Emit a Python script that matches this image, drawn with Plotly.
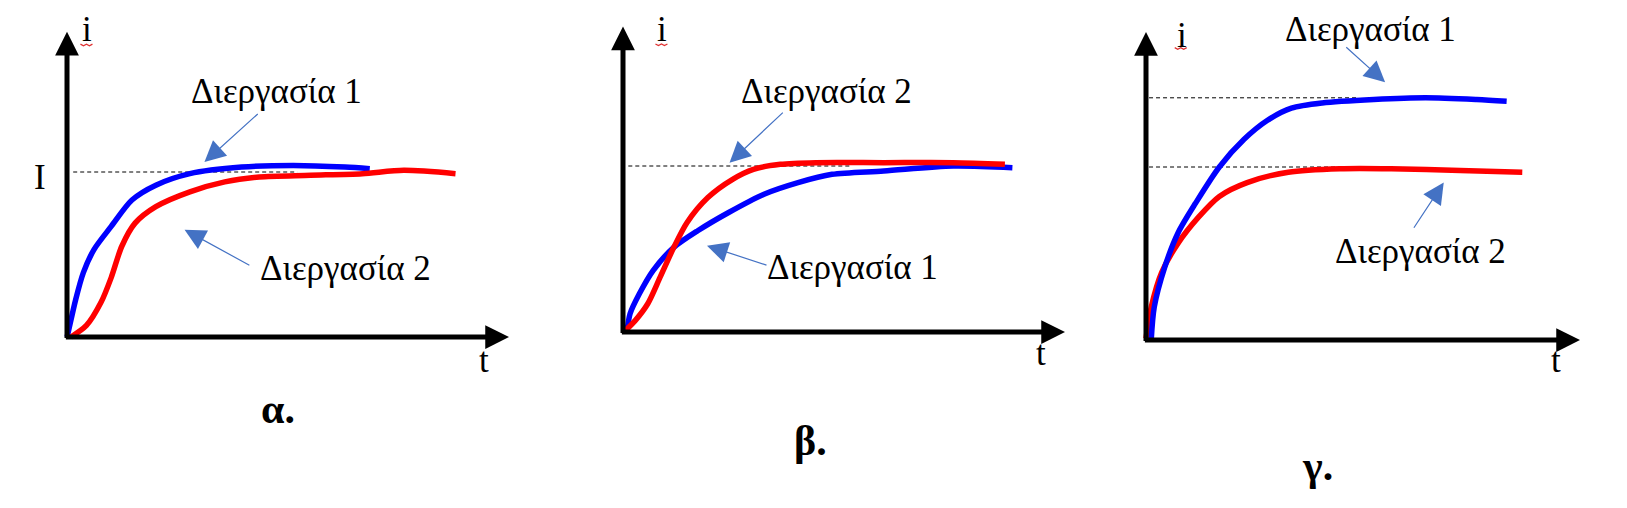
import plotly.graph_objects as go

# ---------------- data (t in arbitrary time units 0..10, i relative to level I = 1) -------------
# Panel α
t_a_blue = [0.0, 0.02, 0.19, 0.37, 0.61, 1.00, 1.47, 2.01, 2.78, 3.95, 5.12, 6.29, 6.85]
i_a_blue = [0.0, 0.02, 0.22, 0.39, 0.53, 0.67, 0.83, 0.92, 0.99, 1.03, 1.04, 1.03, 1.02]
t_a_red = [0.09, 0.44, 0.77, 1.00, 1.24, 1.54, 2.01, 2.78, 3.57, 4.35, 5.51, 6.68, 7.62, 8.79]
i_a_red = [0.0, 0.07, 0.21, 0.36, 0.55, 0.69, 0.79, 0.88, 0.94, 0.97, 0.98, 0.99, 1.01, 0.99]

# Panel β
t_b_red = [0.02, 0.28, 0.56, 0.84, 1.15, 1.45, 1.92, 2.48, 2.95, 3.56, 4.36, 5.90, 7.47, 8.64]
i_b_red = [0.0, 0.07, 0.17, 0.33, 0.51, 0.66, 0.81, 0.92, 0.98, 1.01, 1.02, 1.02, 1.02, 1.01]
t_b_blue = [0.09, 0.16, 0.37, 0.68, 1.15, 1.69, 2.39, 3.19, 3.96, 4.73, 5.90, 7.47, 8.81]
i_b_blue = [0.0, 0.11, 0.23, 0.37, 0.51, 0.61, 0.72, 0.83, 0.90, 0.95, 0.97, 1.00, 0.99]

# Panel γ
t_c_blue = [0.12, 0.19, 0.43, 0.74, 1.14, 1.69, 2.26, 2.80, 3.35, 4.06, 5.25, 6.44, 7.62, 8.31]
i_c_blue = [0.0, 0.19, 0.42, 0.62, 0.79, 1.00, 1.16, 1.27, 1.34, 1.37, 1.39, 1.40, 1.39, 1.38]
t_c_red = [0.0, 0.12, 0.36, 0.74, 1.21, 1.69, 2.33, 3.28, 4.47, 5.65, 7.24, 8.67]
i_c_red = [0.01, 0.19, 0.39, 0.56, 0.71, 0.83, 0.91, 0.97, 0.99, 0.99, 0.98, 0.97]

# steady-state levels (dashed guides): (level, t_start, t_end)
levels_a = [(1.0, 0.14, 5.21)]
levels_b = [(1.0, 0.12, 5.18)]
levels_c = [(1.40, 0.07, 4.87), (1.0, 0.07, 5.11)]

panel_titles = ["α.", "β.", "γ."]
proc1 = "Διεργασία 1"
proc2 = "Διεργασία 2"

# ---------------- layout geometry (page pixels) ----------------
PAGE_W, PAGE_H = 1627, 508
OFF = 8                      # default body margin of the html page
W, H = PAGE_W - OFF, PAGE_H - OFF
PANELS = [
    dict(left=0, right=540, ox=67, oy=337, sx=44.2, sy=165, ytop=1.85),
    dict(left=540, right=1090, ox=623, oy=332, sx=44.2, sy=166, ytop=1.84),
    dict(left=1090, right=1627, ox=1146, oy=340, sx=43.4, sy=173, ytop=1.78),
]
X_END = 10.0

BLUE = "#0000FF"
RED = "#FF0000"
CALLOUT = "#4472C4"
FONT = "Liberation Serif, DejaVu Serif, serif"

fig = go.Figure()
layout = dict(width=W, height=H, margin=dict(l=0, r=0, t=0, b=0),
              paper_bgcolor="white", plot_bgcolor="white", showlegend=False)

for k, p in enumerate(PANELS):
    xa = "xaxis" if k == 0 else f"xaxis{k+1}"
    ya = "yaxis" if k == 0 else f"yaxis{k+1}"
    xr = "x" if k == 0 else f"x{k+1}"
    yr = "y" if k == 0 else f"y{k+1}"
    ox, oy = p["ox"] - OFF, p["oy"] - OFF
    left = max(0, p["left"] - OFF)
    right = min(W, p["right"] - OFF)
    layout[xa] = dict(domain=[left / W, right / W],
                      range=[(left - ox) / p["sx"], (right - ox) / p["sx"]],
                      visible=False, anchor=yr, fixedrange=True)
    layout[ya] = dict(domain=[0, 1],
                      range=[(oy - H) / p["sy"], oy / p["sy"]],
                      visible=False, anchor=xr, fixedrange=True)
fig.update_layout(**layout)

refs = [("x", "y"), ("x2", "y2"), ("x3", "y3")]

# dashed guide lines
for (xr, yr), lev in zip(refs, [levels_a, levels_b, levels_c]):
    for (yv, x0, x1) in lev:
        fig.add_shape(type="line", xref=xr, yref=yr, x0=x0, x1=x1, y0=yv, y1=yv,
                      line=dict(color="black", width=1, dash="4px,3px"), layer="below")

# curves
curves = [
    (0, t_a_blue, i_a_blue, BLUE), (0, t_a_red, i_a_red, RED),
    (1, t_b_blue, i_b_blue, BLUE), (1, t_b_red, i_b_red, RED),
    (2, t_c_red, i_c_red, RED), (2, t_c_blue, i_c_blue, BLUE),
]
for k, tx, iy, col in curves:
    xr, yr = refs[k]
    fig.add_trace(go.Scatter(x=tx, y=iy, mode="lines", xaxis=xr, yaxis=yr,
                             line=dict(color=col, width=5.5, shape="spline", smoothing=0.8),
                             hoverinfo="skip"))

# red spell-check squiggle under the "i" labels (decoration), offsets in pixels
SQ_DX = [-6.0, -3.0, 0.0, 3.0, 6.0]
SQ_DY = [0.0, -1.6, 0.0, -1.6, 0.0]
squiggle_pos = [(0.44, 1.775), (0.87, 1.735), (0.80, 1.69)]
for (xr, yr), p, (cx, cy) in zip(refs, PANELS, squiggle_pos):
    xs = [cx + d / p["sx"] for d in SQ_DX]
    ys = [cy + d / p["sy"] for d in SQ_DY]
    fig.add_trace(go.Scatter(x=xs, y=ys, mode="lines", xaxis=xr, yaxis=yr,
                             line=dict(color="#E03030", width=1.3), hoverinfo="skip"))

annotations = []


def arrow(xr, yr, x, y, ax, ay, color, width, size):
    annotations.append(dict(xref=xr, yref=yr, axref=xr, ayref=yr, x=x, y=y, ax=ax, ay=ay,
                            text="", showarrow=True, arrowhead=2, arrowsize=size,
                            arrowwidth=width, arrowcolor=color, standoff=0))


def label(xr, yr, x, y, text, size=35, bold=False):
    annotations.append(dict(xref=xr, yref=yr, x=x, y=y, text=f"<b>{text}</b>" if bold else text,
                            showarrow=False, xanchor="center", yanchor="middle",
                            font=dict(family=FONT, size=size, color="black")))


# axes with arrows
for (xr, yr), p in zip(refs, PANELS):
    arrow(xr, yr, X_END, 0, -0.06, 0, "black", 5, 0.95)
    arrow(xr, yr, 0, p["ytop"], 0, -0.015, "black", 5, 0.95)

# panel α labels
label("x", "y", 0.45, 1.865, "i")
label("x", "y", -0.62, 0.967, "I")
label("x", "y", 9.44, -0.14, "t")
label("x", "y", 4.74, 1.49, proc1)
label("x", "y", 6.29, 0.415, proc2)
label("x", "y", 4.77, -0.436, panel_titles[0], size=42, bold=True)
arrow("x", "y", 3.11, 1.06, 4.35, 1.36, CALLOUT, 1.2, 3.5)
arrow("x", "y", 2.66, 0.65, 4.16, 0.43, CALLOUT, 1.2, 3.5)

# panel β labels
label("x2", "y2", 0.89, 1.823, "i")
label("x2", "y2", 9.46, -0.127, "t")
label("x2", "y2", 4.61, 1.45, proc2)
label("x2", "y2", 5.20, 0.39, proc1)
label("x2", "y2", 4.24, -0.657, panel_titles[1], size=42, bold=True)
arrow("x2", "y2", 2.41, 1.02, 3.65, 1.33, CALLOUT, 1.2, 3.5)
arrow("x2", "y2", 1.90, 0.52, 3.28, 0.40, CALLOUT, 1.2, 3.5)

# panel γ labels
label("x3", "y3", 0.82, 1.76, "i")
label("x3", "y3", 9.45, -0.116, "t")
label("x3", "y3", 5.18, 1.795, proc1)
label("x3", "y3", 6.32, 0.509, proc2)
label("x3", "y3", 3.94, -0.728, panel_titles[2], size=42, bold=True)
arrow("x3", "y3", 5.51, 1.49, 4.58, 1.70, CALLOUT, 1.2, 3.5)
arrow("x3", "y3", 6.86, 0.91, 6.15, 0.64, CALLOUT, 1.2, 3.5)

fig.update_layout(annotations=annotations)
fig.write_html("out.html")
